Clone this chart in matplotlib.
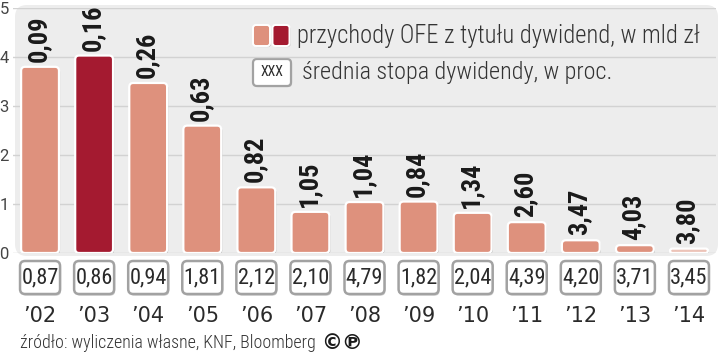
import matplotlib
matplotlib.use("Agg")
import matplotlib.pyplot as plt
from matplotlib.patches import FancyBboxPatch
import matplotlib.transforms as mtrans
import matplotlib.patheffects as pe

# ---- data ----
years = ["’02", "’03", "’04", "’05", "’06", "’07", "’08", "’09", "’10", "’11", "’12", "’13", "’14"]
bar_heights = [3.80, 4.03, 3.47, 2.60, 1.34, 0.84, 1.04, 1.05, 0.82, 0.63, 0.26, 0.16, 0.09]
bar_labels = ["0,09", "0,16", "0,26", "0,63", "0,82", "1,05", "1,04", "0,84", "1,34", "2,60", "3,47", "4,03", "3,80"]
rate_labels = ["0,87", "0,86", "0,94", "1,81", "2,12", "2,10", "4,79", "1,82", "2,04", "4,39", "4,20", "3,71", "3,45"]
highlight_year = "’03"
y_ticks = [0, 1, 2, 3, 4, 5]
legend_income = "przychody OFE z tytułu dywidend, w mld zł"
legend_rate = "średnia stopa dywidendy, w proc."
source_text = "źródło: wyliczenia własne, KNF, Bloomberg"

# ---- style ----
SALMON = "#de917d"
DARKRED = "#a41a30"
PANEL = "#ededed"
GRID = "#d2d2d2"
TXT = "#2a2a2a"
COND = ["Roboto Condensed", "DejaVu Sans"]

fig = plt.figure(figsize=(7.2, 3.6), dpi=100)
fig.patch.set_facecolor("white")

# background axes in pixel coordinates (y measured from the top)
bg = fig.add_axes([0, 0, 1, 1], zorder=0)
bg.set_xlim(0, 720)
bg.set_ylim(0, 360)
bg.axis("off")
Y = lambda py: 360 - py

panel = FancyBboxPatch((15, Y(256)), 703, 251,
                       boxstyle="round,pad=0,rounding_size=12",
                       fc=PANEL, ec="none")
bg.add_patch(panel)

# main axes
ax = fig.add_axes([13 / 720, 1 - 253 / 360, 703 / 720, 245 / 360], zorder=1)
ax.patch.set_alpha(0)
ax.set_xlim(-0.5, len(years) - 0.5)
ax.set_ylim(0, 5)
for s in ax.spines.values():
    s.set_visible(False)
ax.set_yticks(y_ticks)
ax.set_yticklabels([str(t) for t in y_ticks], color="#444444", fontsize=12, family=["Roboto", "DejaVu Sans"])
ax.tick_params(axis="y", length=0, pad=3)
ax.set_xticks([])
ax.set_axisbelow(True)
ax.yaxis.grid(True, color=GRID, lw=1)

xs = list(range(len(years)))
bars = ax.bar(xs, bar_heights, width=0.70)
px_x = 703 / len(years)  # pixels per x unit
px_y = 245 / 5           # pixels per y unit
for i, b in enumerate(bars):
    x0, y0, w, h = b.get_x(), b.get_y(), b.get_width(), b.get_height()
    b.remove()
    r_px = min(4.0, h * px_y / 2)
    col = DARKRED if years[i] == highlight_year else SALMON
    if h * px_y < 6:
        col = "#ecc3b8"
    p = FancyBboxPatch((x0, y0), w, h,
                       boxstyle=f"round,pad=0,rounding_size={r_px / px_x}",
                       mutation_aspect=px_x / px_y,
                       fc=col, ec="white", lw=1.6, zorder=2)
    p.set_path_effects([pe.SimplePatchShadow(offset=(0.8, -0.8), shadow_rgbFace="#8a8a8a", alpha=0.6),
                        pe.Normal()])
    ax.add_patch(p)
    ax.annotate(bar_labels[i], xy=(i, h), xytext=(-1, 3.5), textcoords="offset points",
                rotation=90, ha="center", va="bottom", fontsize=19, fontweight=900,
                family=COND, color="#1a1a1a", zorder=3)

# bottom boxes and year labels
bt = mtrans.blended_transform_factory(ax.transData, bg.transData)
bw = 40 / px_x
for i in xs:
    box = FancyBboxPatch((i - bw / 2, Y(294)), bw, 33,
                         boxstyle=f"round,pad=0,rounding_size={5 / px_x}",
                         mutation_aspect=px_x,
                         fc="white", ec="#a2a2a2", lw=1.8, transform=bt, zorder=2)
    box.set_path_effects([pe.SimplePatchShadow(offset=(0.8, -1.2), shadow_rgbFace="#999999", alpha=0.5),
                          pe.Normal()])
    bg.add_patch(box)
    bg.text(i, Y(277.5), rate_labels[i], transform=bt, ha="center", va="center",
            fontsize=16, family=COND, color=TXT, zorder=3)
    bg.text(i, Y(316), years[i], transform=bt, ha="center", va="center",
            fontsize=15, color=TXT, zorder=3)

# legend
sw1 = FancyBboxPatch((253, Y(46)), 17, 21, boxstyle="round,pad=0,rounding_size=3",
                     fc=SALMON, ec="white", lw=1.4)
sw2 = FancyBboxPatch((272.5, Y(46)), 17, 21, boxstyle="round,pad=0,rounding_size=3",
                     fc=DARKRED, ec="white", lw=1.4)
sw3 = FancyBboxPatch((253, Y(86)), 38, 27, boxstyle="round,pad=0,rounding_size=4",
                     fc="white", ec="#a2a2a2", lw=1.6)
for p in (sw1, sw2, sw3):
    p.set_path_effects([pe.SimplePatchShadow(offset=(0.8, -0.8), shadow_rgbFace="#999999", alpha=0.5),
                        pe.Normal()])
    bg.add_patch(p)
bg.text(272, Y(72.5), "XXX", ha="center", va="center", fontsize=10, family=COND, color=TXT)

t1 = bg.text(297, Y(36), legend_income, ha="left", va="center", fontsize=15,
             family=COND, fontweight="light", color="#333333")
t2 = bg.text(302, Y(72), legend_rate, ha="left", va="center", fontsize=15,
             family=COND, fontweight="light", color="#333333")
src = bg.text(20, Y(343), source_text, ha="left", va="center", fontsize=12,
              family=COND, fontweight="light", color="#333333")
cp = bg.text(321, Y(343), "©℗", ha="left", va="center", fontsize=15, fontweight="bold",
             family=["DejaVu Sans"], color="#1a1a1a")

# fit text widths to the reference
fig.canvas.draw()
r = fig.canvas.get_renderer()
for t, target in ((t1, 403), (t2, 310), (src, 296)):
    w = t.get_window_extent(r).width
    t.set_fontsize(t.get_fontsize() * target / w)

fig.savefig("out.png", dpi=100, facecolor="white")
